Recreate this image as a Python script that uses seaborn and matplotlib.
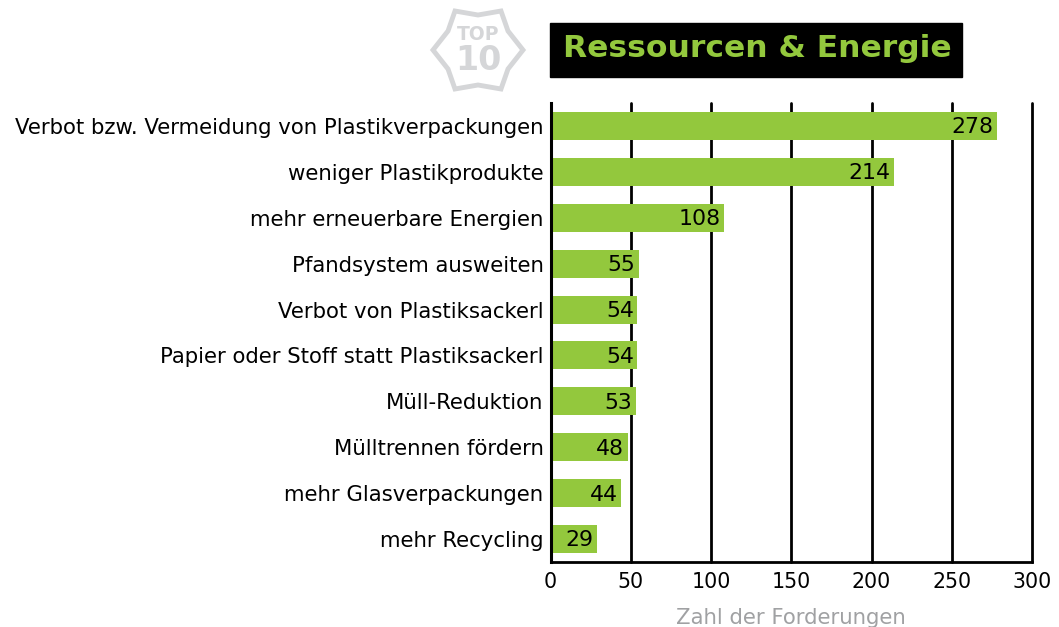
import matplotlib
matplotlib.use("Agg")
import matplotlib.pyplot as plt
from matplotlib.patches import Polygon, Rectangle
import pandas as pd
import seaborn as sns

forderungen = [
    "Verbot bzw. Vermeidung von Plastikverpackungen",
    "weniger Plastikprodukte",
    "mehr erneuerbare Energien",
    "Pfandsystem ausweiten",
    "Verbot von Plastiksackerl",
    "Papier oder Stoff statt Plastiksackerl",
    "Müll-Reduktion",
    "Mülltrennen fördern",
    "mehr Glasverpackungen",
    "mehr Recycling",
]
anzahl = [278, 214, 108, 55, 54, 54, 53, 48, 44, 29]
x_ticks = [0, 50, 100, 150, 200, 250, 300]

W, H = 1059, 627
GREEN = "#93c83d"
GREY = "#d5d6d8"

sns.set_theme(style="white")
plt.rcParams["font.family"] = ["DejaVu Sans"]

df = pd.DataFrame({"forderung": forderungen, "anzahl": anzahl})

fig = plt.figure(figsize=(W / 100, H / 100), dpi=100)
ax = fig.add_axes([550.5 / W, 1 - 562 / H, (1032 - 550.5) / W, (562 - 103) / H])

sns.barplot(data=df, x="anzahl", y="forderung", color=GREEN, saturation=1,
            width=0.61, linewidth=0, ax=ax, zorder=3)

ax.set_xlim(0, 300)
ax.set_ylim(9.5, -0.5)
ax.set_xticks(x_ticks)
ax.xaxis.grid(True, color="black", linewidth=2)
for line in ax.get_xgridlines():
    line.set_clip_on(False)
ax.set_axisbelow(True)
ax.tick_params(axis="x", length=0, pad=7, labelsize=14.8, colors="black")
ax.tick_params(axis="y", length=0, pad=5, labelsize=15.35, colors="black")
ax.set_ylabel("")
ax.set_xlabel("Zahl der Forderungen", fontsize=15.3, color="#a0a1a3", labelpad=11.5)

for side in ["top", "right"]:
    ax.spines[side].set_visible(False)
ax.spines["left"].set_linewidth(2.2)
ax.spines["left"].set_color("black")
ax.spines["left"].set_zorder(5)
ax.spines["bottom"].set_linewidth(2)
ax.spines["bottom"].set_color("black")

# Werte rechtsbündig in den Balken
for i, v in enumerate(anzahl):
    ax.annotate(str(v), (v, i), xytext=(-2.5, -1), textcoords="offset points",
                ha="right", va="center", fontsize=15.8, color="black", zorder=4)

# Titelbox
fig.add_artist(Rectangle((550 / W, 1 - 77 / H), 412 / W, 54 / H,
                         transform=fig.transFigure, color="black"))
fig.text(563 / W, 1 - 48.5 / H, "Ressourcen & Energie", fontsize=22.6,
         fontweight="bold", color=GREEN, ha="left", va="center")

# Top-10-Stern
star = [(433, 50), (448, 31), (455, 11), (478, 15), (501, 11), (508, 31),
        (523, 50), (508, 69), (501, 89), (478, 85), (455, 89), (448, 69)]
fig.add_artist(Polygon([(x / W, 1 - y / H) for x, y in star], closed=True,
                       transform=fig.transFigure, fill=False, edgecolor=GREY,
                       linewidth=3.5))
fig.text(478 / W, 1 - 35 / H, "TOP", fontsize=13.5, fontweight="bold",
         color=GREY, ha="center", va="center")
fig.text(478 / W, 1 - 60 / H, "10", fontsize=24, fontweight="bold",
         color=GREY, ha="center", va="center")

fig.savefig("out.png", dpi=100)
